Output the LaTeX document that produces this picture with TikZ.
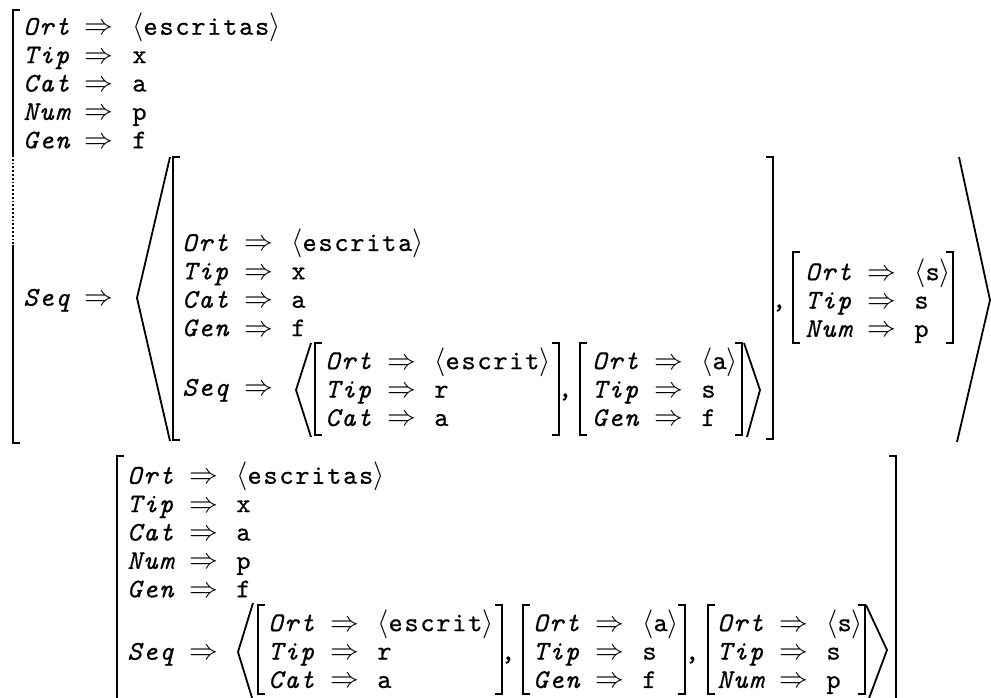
\documentclass[tikz,border=0pt]{standalone}
\usepackage{fontspec}
\newfontfamily\avmfont{lmmono10-regular.otf}[ItalicFont=lmmono10-italic.otf, LetterSpace=6.5, FakeBold=0.6]
\usepackage{tikz}
% one feature line: attribute => value
\newcommand{\fv}[2]{\makebox[38pt][l]{\textit{#1}}\makebox[0pt][c]{$\Rightarrow$}\hspace{16.5pt}#2\strut}
\newcommand{\ang}[1]{$\langle$#1$\rangle$}

\begin{document}
\begin{tikzpicture}[
    x=0.5pt, y=-0.5pt,
    avm/.style={anchor=west, align=left, inner sep=0pt, font=\avmfont\fontsize{13.5}{14.2}\selectfont},
    sep/.style={inner sep=0pt, font=\avmfont\fontsize{13.5}{14.2}\selectfont},
    brk/.style={line width=0.9pt},
    angl/.style={line width=0.9pt, line join=miter},
]
    \useasboundingbox (0,0) rectangle (991,697);

    % word level
    \node[avm] (w) at (23,85) {\fv{Ort}{\ang{escritas}}\\\fv{Tip}{x}\\\fv{Cat}{a}\\\fv{Num}{p}\\\fv{Gen}{f}};
    \node[avm] (wseq) at (23,300) {\fv{Seq}{}};
    \draw[brk] (20,10) -- (13,10) -- (13,155);
    \draw[brk, densely dotted] (13,155) -- (13,245);
    \draw[brk] (13,245) -- (13,443) -- (20,443);
    \draw[angl] (170,157) -- (137,298) -- (170,441);
    \draw[angl] (959,157) -- (990,300) -- (957,442);

    % stem + suffix a
    \node[avm] (st) at (182,287) {\fv{Ort}{\ang{escrita}}\\\fv{Tip}{x}\\\fv{Cat}{a}\\\fv{Gen}{f}};
    \node[avm] (stseq) at (182,390) {\fv{Seq}{}};
    \draw[brk] (180,157) -- (173,157) -- (173,440) -- (180,440);
    \draw[brk] (766,157) -- (773,157) -- (773,439) -- (766,439);
    \draw[angl] (311,343) -- (296,390) -- (311,437);
    \draw[angl] (744,343) -- (760,390) -- (747,437);

    \node[avm] (rt) at (325,391) {\fv{Ort}{\ang{escrit}}\\\fv{Tip}{r}\\\fv{Cat}{a}};
    \draw[brk] (322,343) -- (315,343) -- (315,435) -- (322,435);
    \draw[brk] (552,343) -- (559,343) -- (559,435) -- (552,435);
    \node[sep] (k1) at (565,397) {,};

    \node[avm] (sa) at (592,391) {\fv{Ort}{\ang{a}}\\\fv{Tip}{s}\\\fv{Gen}{f}};
    \draw[brk] (587,343) -- (580,343) -- (580,435) -- (587,435);
    \draw[brk] (735,343) -- (742,343) -- (742,435) -- (735,435);

    \node[sep] (k2) at (779,308) {,};

    % suffix s
    \node[avm] (ss) at (805,302) {\fv{Ort}{\ang{s}}\\\fv{Tip}{s}\\\fv{Num}{p}};
    \draw[brk] (800,252) -- (793,252) -- (793,343) -- (800,343);
    \draw[brk] (946,252) -- (953,252) -- (953,343) -- (946,343);

    % flattened result
    \node[avm] (fl) at (127,534) {\fv{Ort}{\ang{escritas}}\\\fv{Tip}{x}\\\fv{Cat}{a}\\\fv{Num}{p}\\\fv{Gen}{f}};
    \node[avm] (flseq) at (127,654) {\fv{Seq}{}};
    \draw[brk] (124,456) -- (117,456) -- (117,700);
    \draw[brk] (889,456) -- (896,456) -- (896,700);
    \draw[angl] (253,603) -- (238,652) -- (253,701);
    \draw[angl] (866,605) -- (887,650) -- (868,701);

    \node[avm] (f1) at (268,653) {\fv{Ort}{\ang{escrit}}\\\fv{Tip}{r}\\\fv{Cat}{a}};
    \draw[brk] (265,605) -- (258,605) -- (258,694) -- (265,694);
    \draw[brk] (495,605) -- (502,605) -- (502,694) -- (495,694);
    \node[sep] (k3) at (508,660) {,};

    \node[avm] (f2) at (533,653) {\fv{Ort}{\ang{a}}\\\fv{Tip}{s}\\\fv{Gen}{f}};
    \draw[brk] (530,605) -- (523,605) -- (523,694) -- (530,694);
    \draw[brk] (678,605) -- (685,605) -- (685,694) -- (678,694);
    \node[sep] (k4) at (692,660) {,};

    \node[avm] (f3) at (717,653) {\fv{Ort}{\ang{s}}\\\fv{Tip}{s}\\\fv{Num}{p}};
    \draw[brk] (715,605) -- (708,605) -- (708,694) -- (715,694);
    \draw[brk] (858,605) -- (865,605) -- (865,694) -- (858,694);
\end{tikzpicture}
\end{document}
